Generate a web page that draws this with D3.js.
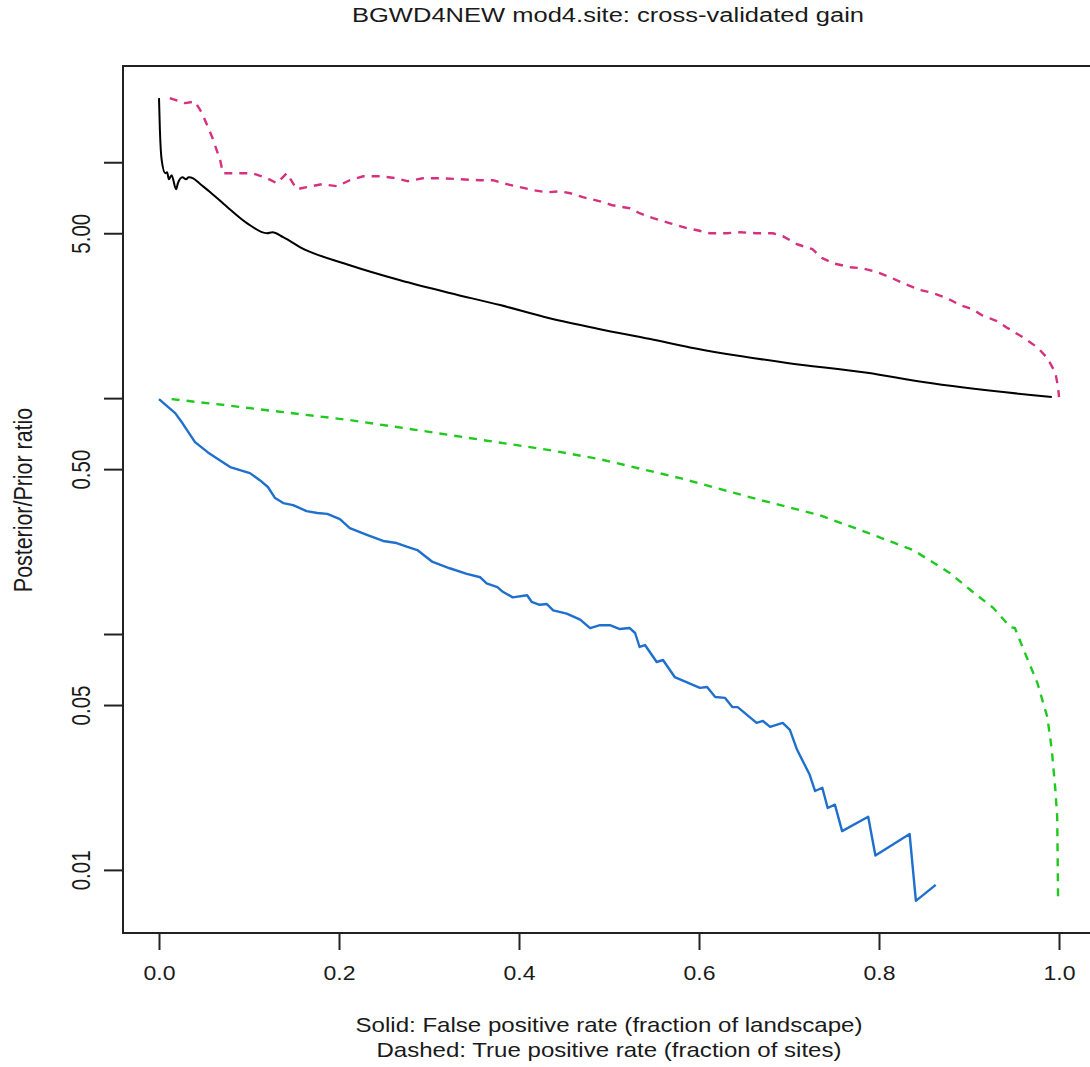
<!DOCTYPE html>
<html>
<head>
<meta charset="utf-8">
<script src="https://cdn.jsdelivr.net/npm/d3@7"></script>
<style>
	body { margin: 0; background: #fff; }
	svg text { font-family: "Liberation Sans", Arial, Helvetica, sans-serif; fill: #1a1a1a; }
</style>
</head>
<body>
<svg width="1090" height="1067"></svg>
<script>
// solid black: gain against false positive rate
var solidUpperX = [0.000,0.001,0.003,0.007,0.009,0.011,0.014,0.019,0.021,0.026,0.030,0.033,0.038,0.046,0.057,0.076,0.098,0.120,0.126,0.138,0.157,0.212,0.268,0.323,0.379,0.434,0.490,0.546,0.590,0.698,0.787,0.849,0.992];
var solidUpperY = [18.7,13.7,10.2,8.98,9.07,8.47,8.81,7.68,8.15,8.64,8.47,8.64,8.55,8.07,7.46,6.45,5.51,5.00,5.05,4.81,4.36,3.66,3.16,2.79,2.48,2.18,1.96,1.78,1.64,1.41,1.28,1.17,1.01];

// dashed magenta: gain against true positive rate
var dashedUpperX = [0.012,0.029,0.040,0.048,0.059,0.068,0.071,0.104,0.120,0.131,0.142,0.153,0.164,0.181,0.198,0.212,0.227,0.246,0.264,0.276,0.293,0.316,0.334,0.357,0.371,0.382,0.401,0.416,0.431,0.446,0.457,0.471,0.490,0.504,0.523,0.534,0.549,0.568,0.587,0.598,0.612,0.631,0.646,0.664,0.682,0.693,0.709,0.726,0.737,0.749,0.768,0.782,0.798,0.812,0.827,0.846,0.860,0.876,0.890,0.904,0.914,0.931,0.943,0.960,0.976,0.987,0.996,0.999,1.000];
var dashedUpperY = [18.7,17.8,18.1,16.1,12.8,10.2,8.98,8.98,8.55,8.15,8.98,7.68,7.84,8.07,7.91,8.39,8.72,8.72,8.55,8.31,8.55,8.55,8.47,8.39,8.39,8.15,7.84,7.61,7.46,7.53,7.39,7.11,6.83,6.57,6.38,6.08,5.79,5.51,5.25,5.15,5.00,5.00,5.05,5.00,5.00,4.86,4.49,4.28,3.92,3.73,3.59,3.55,3.42,3.26,3.07,2.87,2.79,2.65,2.48,2.38,2.25,2.12,1.98,1.81,1.64,1.48,1.28,1.11,1.01];

// dashed green
var dashedLowerX = [0.014,0.064,0.138,0.212,0.287,0.360,0.434,0.490,0.579,0.668,0.734,0.779,0.838,0.879,0.904,0.927,0.946,0.951,0.964,0.976,0.987,0.992,0.996,0.998,0.999];
var dashedLowerY = [0.99,0.943,0.872,0.807,0.732,0.664,0.602,0.551,0.458,0.370,0.319,0.276,0.227,0.181,0.151,0.129,0.107,0.106,0.0799,0.0620,0.0445,0.0323,0.0218,0.0168,0.00746];

// solid blue
var solidLowerX = [0.000,0.018,0.026,0.040,0.054,0.059,0.079,0.101,0.112,0.121,0.129,0.138,0.149,0.164,0.176,0.187,0.201,0.212,0.231,0.249,0.264,0.276,0.287,0.304,0.323,0.342,0.357,0.364,0.376,0.382,0.393,0.409,0.414,0.423,0.431,0.438,0.453,0.468,0.479,0.490,0.501,0.512,0.523,0.529,0.534,0.540,0.553,0.560,0.573,0.601,0.609,0.618,0.629,0.637,0.643,0.664,0.671,0.679,0.693,0.701,0.709,0.723,0.729,0.737,0.743,0.751,0.759,0.788,0.796,0.834,0.841,0.863];
var solidLowerY = [0.99,0.864,0.784,0.651,0.590,0.573,0.510,0.481,0.449,0.420,0.377,0.359,0.352,0.332,0.326,0.323,0.307,0.281,0.263,0.248,0.243,0.234,0.227,0.202,0.190,0.180,0.174,0.164,0.158,0.151,0.143,0.146,0.137,0.133,0.134,0.126,0.122,0.115,0.106,0.109,0.109,0.105,0.106,0.101,0.0881,0.0898,0.0761,0.0776,0.0657,0.0591,0.0596,0.0541,0.0536,0.0490,0.0490,0.0420,0.0428,0.0404,0.0420,0.0392,0.0323,0.0253,0.0216,0.0223,0.0183,0.0189,0.0146,0.0168,0.0115,0.0142,0.00739,0.00864];

var xTicks = [0, 0.2, 0.4, 0.6, 0.8, 1.0];
var yTicks = [0.01, 0.05, 0.1, 0.5, 1, 5, 10];
var yTickLabels = ["0.01", "0.05", "", "0.50", "", "5.00", ""];

var titleText = "BGWD4NEW mod4.site: cross-validated gain";
var xLabel1 = "Solid: False positive rate (fraction of landscape)";
var xLabel2 = "Dashed: True positive rate (fraction of sites)";
var yLabel = "Posterior/Prior ratio";

var series = [
	{ x: solidUpperX, y: solidUpperY, color: "#000000", dash: null, w: 2, curve: d3.curveMonotoneX },
	{ x: dashedUpperX, y: dashedUpperY, color: "#d6307e", dash: "8,7", w: 2.4, curve: d3.curveLinear },
	{ x: dashedLowerX, y: dashedLowerY, color: "#1fc91f", dash: "8,7", w: 2.4, curve: d3.curveLinear },
	{ x: solidLowerX, y: solidLowerY, color: "#1f70cd", dash: null, w: 2.4, curve: d3.curveLinear }
];

var svg = d3.select("svg"),
	plotLeft = 123, plotRight = 1095, plotTop = 66, plotBottom = 933;

// R style 4% padding, log space for y
var allY = [].concat(solidUpperY, dashedUpperY, dashedLowerY, solidLowerY);
var lo = Math.log10(d3.min(allY)), hi = Math.log10(d3.max(allY)), pad = (hi - lo) * 0.04;

var x = d3.scaleLinear().domain([-0.04, 1.04]).range([plotLeft, plotRight]);
var y = d3.scaleLog().domain([Math.pow(10, lo - pad), Math.pow(10, hi + pad)]).range([plotBottom, plotTop]);

var g = svg.append("g");

series.forEach(function(s) {
	var pts = s.x.map(function(v, i) { return [v, s.y[i]]; });
	var line = d3.line()
		.curve(s.curve)
		.x(function(d) { return x(d[0]); })
		.y(function(d) { return y(d[1]); });
	g.append("path")
		.datum(pts)
		.attr("d", line)
		.attr("fill", "none")
		.attr("stroke", s.color)
		.attr("stroke-width", s.w)
		.attr("stroke-linejoin", "round")
		.attr("stroke-dasharray", s.dash);
});

// frame
svg.append("rect")
	.attr("x", plotLeft).attr("y", plotTop)
	.attr("width", plotRight - plotLeft).attr("height", plotBottom - plotTop)
	.attr("fill", "none").attr("stroke", "#222").attr("stroke-width", 2);

// x axis
var xAxis = svg.append("g")
	.attr("transform", "translate(0," + plotBottom + ")")
	.call(d3.axisBottom(x).tickValues(xTicks).tickSize(17).tickFormat(d3.format(".1f")));
xAxis.select(".domain").remove();
xAxis.selectAll("line").attr("stroke", "#222").attr("stroke-width", 2);
xAxis.selectAll("text")
	.attr("y", 47).attr("dy", 0)
	.attr("textLength", 32).attr("lengthAdjust", "spacingAndGlyphs")
	.style("font-size", "20px").style("fill", "#1a1a1a");

// y axis
var yAxis = svg.append("g")
	.attr("transform", "translate(" + plotLeft + ",0)")
	.call(d3.axisLeft(y).tickValues(yTicks).tickSize(19)
		.tickFormat(function(d, i) { return yTickLabels[i]; }));
yAxis.select(".domain").remove();
yAxis.selectAll("line").attr("stroke", "#222").attr("stroke-width", 2);
yAxis.selectAll("text")
	.attr("x", null).attr("dy", null)
	.attr("text-anchor", "middle")
	.attr("transform", "translate(-33,0) scale(1.24,1) rotate(-90)")
	.style("font-size", "20.5px").style("fill", "#1a1a1a");

// titles
svg.append("text")
	.attr("x", 608).attr("y", 22)
	.attr("text-anchor", "middle")
	.attr("textLength", 512).attr("lengthAdjust", "spacingAndGlyphs")
	.style("font-size", "19.5px")
	.text(titleText);

svg.append("text")
	.attr("x", 609).attr("y", 1032)
	.attr("text-anchor", "middle")
	.attr("textLength", 507).attr("lengthAdjust", "spacingAndGlyphs")
	.style("font-size", "21px")
	.text(xLabel1);

svg.append("text")
	.attr("x", 609).attr("y", 1057)
	.attr("text-anchor", "middle")
	.attr("textLength", 465).attr("lengthAdjust", "spacingAndGlyphs")
	.style("font-size", "21px")
	.text(xLabel2);

svg.append("text")
	.attr("text-anchor", "middle")
	.attr("transform", "translate(32,500) scale(1.17,1) rotate(-90)")
	.style("font-size", "21.4px")
	.text(yLabel);
</script>
</body>
</html>
